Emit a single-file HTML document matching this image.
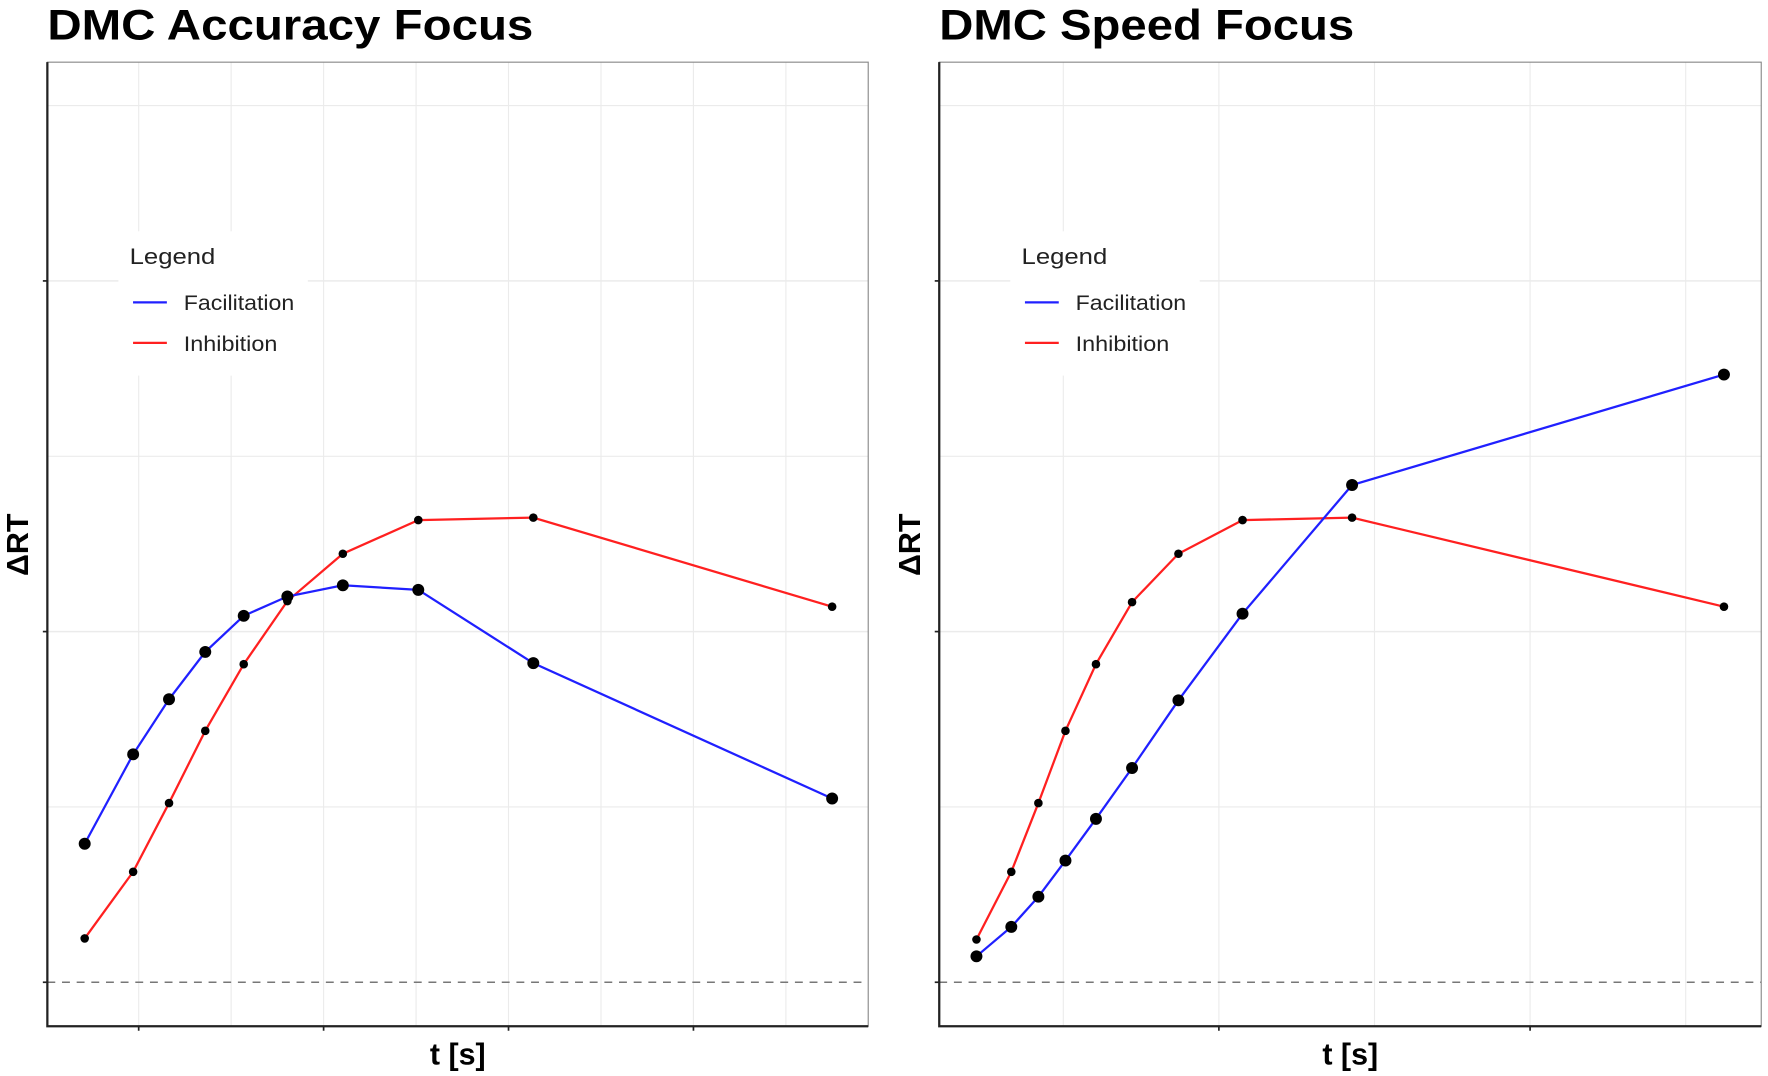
<!DOCTYPE html>
<html><head><meta charset="utf-8"><style>
html,body{margin:0;padding:0;background:#fff;}
svg{display:block;font-family:"Liberation Sans",sans-serif;}
</style></head><body>
<svg id="chart" width="1768" height="1076" viewBox="0 0 1568 954"></svg>
<script>
// Left panel data (Accuracy Focus)
const accT = [0.354,0.485,0.582,0.680,0.784,0.902,1.052,1.256,1.567,2.375];
const accFac = [0.395,0.650,0.807,0.942,1.045,1.100,1.132,1.119,0.910,0.524];
const accInh = [0.125,0.315,0.511,0.717,0.907,1.087,1.222,1.318,1.325,1.071];
// Right panel data (Speed Focus)
const spdT = [0.221,0.333,0.420,0.507,0.605,0.721,0.870,1.076,1.428,2.623];
const spdFac = [0.074,0.158,0.244,0.347,0.466,0.611,0.804,1.051,1.418,1.733];
const spdInh = [0.122,0.315,0.511,0.717,0.907,1.084,1.222,1.318,1.325,1.071];
const seriesNames = ["Facilitation","Inhibition"];

const NS="http://www.w3.org/2000/svg";
const svg=document.getElementById('chart');
function mk(tag,attrs,parent){const e=document.createElementNS(NS,tag);for(const k in attrs)e.setAttribute(k,attrs[k]);(parent||svg).appendChild(e);return e;}

function panel(cfg){
  const g=mk('g',{});
  
  
  const L=cfg.x0,R=cfg.x1,T=55,B=910;
  const y=v=>871-v*311;
  const x=cfg.xs;
  cfg.vgrid.forEach(t=>{const l=mk('line',{x1:x(t),x2:x(t),y1:T,y2:B,stroke:'#ebebeb','stroke-width':1},g);});
  [-0.125,0.5,1.5,2.5].forEach(v=>{const l=mk('line',{x1:L,x2:R,y1:y(v),y2:y(v),stroke:'#ebebeb','stroke-width':1},g);});
  [1,2].forEach(v=>{const l=mk('line',{x1:L,x2:R,y1:y(v),y2:y(v),stroke:'#ebebeb','stroke-width':1.3},g);});
  const z=mk('line',{x1:L,x2:R,y1:y(0),y2:y(0),stroke:'#777','stroke-width':1.3,'stroke-dasharray':'7,6'},g);
  
  mk('rect',{x:L,y:T,width:R-L,height:B-T,fill:'none',stroke:'#888','stroke-width':1},g);
  const ax=mk('path',{d:`M${L},${T}V${B}H${R}`,fill:'none',stroke:'#222','stroke-width':2},g);
  
  [0,1,2].forEach(v=>{const l=mk('line',{x1:L-4,x2:L,y1:y(v),y2:y(v),stroke:'#222','stroke-width':1.5},g);});
  cfg.xticks.forEach(t=>{const l=mk('line',{x1:x(t),x2:x(t),y1:B,y2:B+4,stroke:'#222','stroke-width':1.5},g);});
  const ser=[[cfg.inh,'#ff2020',3.8,'inhibition'],[cfg.fac,'#2020ff',5.3,'facilitation']];
  ser.forEach(([vals,col,r,nm])=>{
    const pts=cfg.t.map((t,i)=>x(t)+','+y(vals[i])).join(' ');
    const pl=mk('polyline',{points:pts,fill:'none',stroke:col,'stroke-width':2},g);
    
  });
  ser.forEach(([vals,col,r,nm])=>{
    cfg.t.forEach((t,i)=>{const c=mk('circle',{cx:x(t),cy:y(vals[i]),r:r,fill:'#000'},g);
      });
  });
  const lg=mk('g',{},g);
  
  const lx=L+63;
  mk('rect',{x:lx,y:205,width:168,height:128,fill:'#fff'},lg);
  const tt=mk('text',{x:lx+10,y:234,'font-size':20,fill:'#222',textLength:76,lengthAdjust:'spacingAndGlyphs'},lg);tt.textContent='Legend';
  
  [['#2020ff',268,seriesNames[0],98],['#ff2020',304,seriesNames[1],83]].forEach(([c,yy,n,w])=>{
    const e=mk('g',{},lg);
    mk('line',{x1:lx+13,x2:lx+43,y1:yy,y2:yy,stroke:c,'stroke-width':2},e);
    const t=mk('text',{x:lx+58,y:yy+7,'font-size':19,fill:'#222',textLength:w,lengthAdjust:'spacingAndGlyphs'},e);t.textContent=n;
  });
  const ti=mk('text',{x:L,y:35,'font-size':38,'font-weight':'bold',fill:'#000',textLength:cfg.titleW,lengthAdjust:'spacingAndGlyphs'},g);ti.textContent=cfg.title;
  
  const xl=mk('text',{x:(L+R)/2,y:944,'font-size':27,'font-weight':'bold','text-anchor':'middle',fill:'#000'},g);xl.textContent='t [s]';
  
  const yl=mk('text',{x:0,y:0,'font-size':27,'font-weight':'bold','text-anchor':'middle',fill:'#000',transform:`translate(${L-17},483) rotate(-90)`},g);yl.textContent='ΔRT';
  
}
panel({name:'accuracy-focus-panel',title:'DMC Accuracy Focus',titleW:431,x0:42,x1:770,
  xs:t=>123+(t-0.5)*328, vgrid:[0.5,0.75,1,1.25,1.5,1.75,2,2.25], xticks:[0.5,1,1.5,2],
  t:accT,fac:accFac,inh:accInh});
panel({name:'speed-focus-panel',title:'DMC Speed Focus',titleW:368,x0:833,x1:1562,
  xs:t=>1081+(t-1)*276, vgrid:[0.5,1,1.5,2,2.5], xticks:[1,2],
  t:spdT,fac:spdFac,inh:spdInh});
</script>
</body></html>
